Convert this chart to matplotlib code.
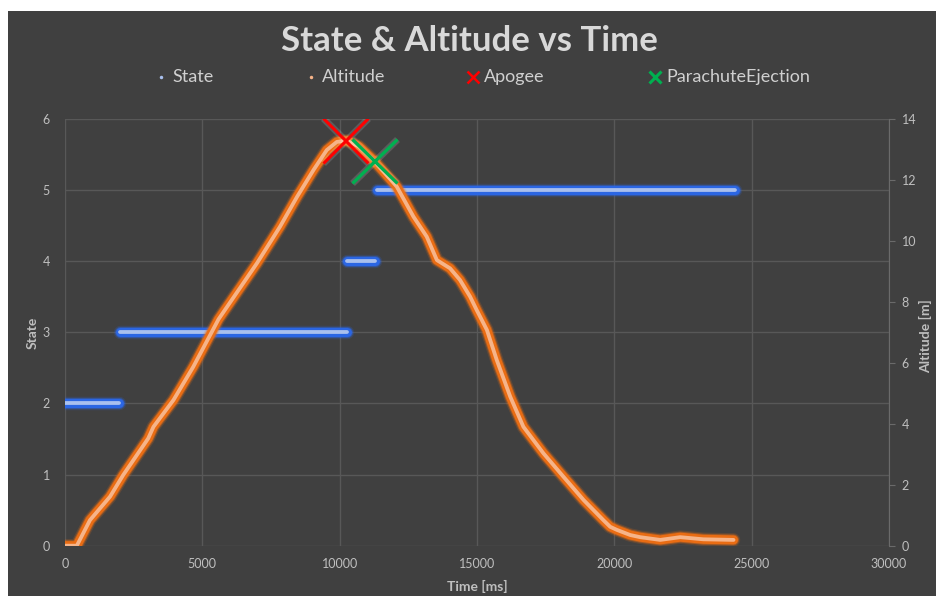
import matplotlib
matplotlib.use("Agg")
import matplotlib.pyplot as plt
from matplotlib.lines import Line2D
from matplotlib.patches import Rectangle
import matplotlib.patheffects as pe

plt.rcParams['font.family'] = ['Lato', 'DejaVu Sans']

# Flight state, held constant over each time span (ms)
state_values = [2, 3, 4, 5]
state_start = [0, 2000, 10250, 11350]
state_end = [1950, 10250, 11300, 24380]

# Altitude trace
alt_time = [0, 430, 910, 1640, 2120, 3030, 3220, 3950, 4670, 5590, 6990,
            7830, 8450, 9050, 9530, 9900, 10260, 10700, 11230, 12080, 12690, 13170,
            13540, 14020, 14380, 14750, 14990, 15360, 15720, 16210, 16690, 17420,
            18150, 18880, 19600, 19850, 20090, 20580, 20940, 21670, 22400, 23240, 24340]
alt_m = [0.0, 0.0, 0.84, 1.61, 2.32, 3.52, 3.90, 4.78, 5.87, 7.43, 9.27,
         10.47, 11.45, 12.33, 12.98, 13.25, 13.29, 13.10, 12.65, 11.78, 10.79, 10.14,
         9.37, 9.10, 8.72, 8.17, 7.73, 7.08, 6.09, 4.89, 3.90, 3.03,
         2.26, 1.50, 0.84, 0.62, 0.52, 0.35, 0.28, 0.19, 0.28, 0.21, 0.19]

# Events
apogee_time, apogee_alt = [10220], [13.29]
chute_time, chute_alt = [11270], [12.62]

x_ticks = [0, 5000, 10000, 15000, 20000, 25000, 30000]
state_ticks = [0, 1, 2, 3, 4, 5, 6]
alt_ticks = [0, 2, 4, 6, 8, 10, 12, 14]

BG = '#404040'
GRID = '#585858'
TXT = '#bfbfbf'
BLUE_OUT, BLUE_CORE = '#2b67e8', '#a9c0ee'
OR_OUT, OR_CORE = '#ee6e12', '#f6b489'

fig = plt.figure(figsize=(9.36, 5.96), dpi=100)
fig.patch.set_facecolor('white')
fig.add_artist(Rectangle((8 / 936, 0), 1 - 8 / 936, 1 - 11 / 596,
                         transform=fig.transFigure, facecolor=BG,
                         edgecolor='none', zorder=-10))

ax = fig.add_axes([65 / 936, 1 - 545.7 / 596, (889 - 65) / 936, (545.7 - 119) / 596])
ax.set_facecolor('none')
ax2 = ax.twinx()
ax2.set_facecolor('none')


def glow(axis, x, y, outer, core):
    for w, a in [(13.5, 0.18), (11, 0.45), (9, 0.95)]:
        axis.plot(x, y, color=outer, lw=w * 0.72, alpha=a,
                  solid_capstyle='round', solid_joinstyle='round')
    axis.plot(x, y, color=core, lw=3.8 * 0.72,
              solid_capstyle='round', solid_joinstyle='round')


for v, s, e in zip(state_values, state_start, state_end):
    glow(ax, [s, e], [v, v], BLUE_OUT, BLUE_CORE)

glow(ax2, alt_time, alt_m, OR_OUT, OR_CORE)

halo = [pe.Stroke(linewidth=5, foreground='white', alpha=0.15), pe.Normal()]
ax2.plot(apogee_time, apogee_alt, marker='x', linestyle='none', markersize=32,
         markeredgewidth=2.2, color='#ff0000', path_effects=halo)
ax2.plot(chute_time, chute_alt, marker='x', linestyle='none', markersize=32,
         markeredgewidth=2.4, color='#00b050', path_effects=halo)

ax.set_xlim(0, 30000)
ax.set_ylim(0, 6)
ax2.set_ylim(0, 14)
ax.set_xticks(x_ticks)
ax.set_xticklabels([str(t) for t in x_ticks])
ax.set_yticks(state_ticks)
ax2.set_yticks(alt_ticks)

ax.grid(True, color=GRID, lw=1.0)
ax.set_axisbelow(True)
for sp in ax.spines.values():
    sp.set_visible(False)
for sp in ax2.spines.values():
    sp.set_visible(False)
ax2.spines['right'].set_visible(True)
ax2.spines['right'].set_color('#6a6a6a')

ax.tick_params(axis='both', length=0, colors=TXT, labelsize=9)
ax.tick_params(axis='x', pad=9)
ax.tick_params(axis='y', pad=11)
ax2.tick_params(axis='y', length=4, direction='out', color='#6a6a6a',
                colors=TXT, labelsize=9, pad=5)

ax.set_xlabel('Time [ms]', color=TXT, fontsize=10, fontweight='bold', labelpad=7)
ax.set_ylabel('State', color=TXT, fontsize=10, fontweight='bold', va='center')
ax.yaxis.set_label_coords(-(65 - 33) / 824, 0.5)
ax2.set_ylabel('Altitude [m]', color=TXT, fontsize=10, fontweight='bold', va='center')
ax2.yaxis.set_label_coords(1 + (926 - 889) / 824, 0.49)

fig.text(469 / 936, 1 - 41 / 596, 'State & Altitude vs Time', ha='center', va='center',
         fontsize=25, fontweight='bold', color='#d9d9d9')

# Legend row
leg_y = 1 - 77 / 596
entries = [
    (161, 'State', dict(marker='o', markersize=2.5, color=BLUE_CORE, markeredgewidth=0)),
    (311, 'Altitude', dict(marker='o', markersize=2.5, color=OR_CORE, markeredgewidth=0)),
    (473, 'Apogee', dict(marker='x', markersize=8, color='#ff0000', markeredgewidth=1.8)),
    (655, 'ParachuteEjection', dict(marker='x', markersize=8, color='#00b050', markeredgewidth=2.2)),
]
for px, label, style in entries:
    fig.add_artist(Line2D([px / 936], [leg_y], transform=fig.transFigure,
                          linestyle='none', **style))
    fig.text((px + 11) / 936, leg_y, label, ha='left', va='center',
             fontsize=13, color='#d0d0d0')

fig.savefig('out.png', dpi=100, facecolor=fig.get_facecolor())
